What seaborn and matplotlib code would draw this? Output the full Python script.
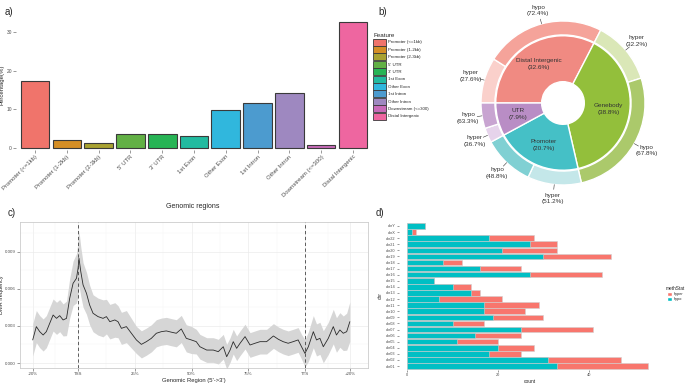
import numpy as np
import pandas as pd
import seaborn as sns
import matplotlib.pyplot as plt
from matplotlib.patches import Patch

# ---- a) annotation bar chart ----
features = ["Promoter (<=1kb)", "Promoter (1-2kb)", "Promoter (2-3kb)", "5' UTR", "3' UTR",
            "1st Exon", "Other Exon", "1st Intron", "Other Intron", "Downstream (<=300)",
            "Distal Intergenic"]
feature_pct = [17.2, 2.1, 1.4, 3.5, 3.6, 3.1, 9.8, 11.6, 14.2, 0.8, 32.6]
feature_colors = ["#F0746B", "#D58E25", "#A9A231", "#62B045", "#27B455", "#22BBA0",
                  "#30B7DD", "#4C9BCF", "#9E88C0", "#C86BB9", "#EE66A0"]

# ---- b) donut ----
groups = ["Distal Intergenic", "Genebody", "Promoter", "UTR"]
group_pct = [32.6, 38.8, 20.7, 7.9]
hyper_pct = [27.6, 32.2, 51.2, 36.7]
hypo_pct = [72.4, 67.8, 48.8, 63.3]
group_colors = ["#F08A82", "#93BF3B", "#45C0C6", "#B98DC5"]
hypo_colors = ["#F5A39A", "#ABC96B", "#80D0D3", "#C8A4D1"]
hyper_colors = ["#FAD0CB", "#DAE7B7", "#C4E7E9", "#E6D3EB"]

# ---- c) DMR profile along gene body ----
prof_x = [-20, -18.4, -16.9, -15.4, -14.0, -12.5, -11.0, -9.5, -8.1, -6.6, -5.1,
          -3.7, -2.2, -0.7, 0.0, 0.4, 1.2, 2.2, 3.7,
          5.1, 6.6, 8.8, 11.0, 12.5, 14.0, 16.2, 17.6, 19.1, 21.3, 23.5,
          25.7, 27.9, 30.1, 32.3, 34.5, 36.7, 38.9, 41.1, 43.3, 45.5, 47.7, 49.9, 52.1,
          53.7, 56.7, 59.6, 61.8, 64.0, 65.5, 67.0, 68.4, 69.9, 71.4, 73.6,
          75.8, 78.0, 80.2, 83.1, 86.1, 88.3, 90.4, 92.6, 94.8, 97.0, 98.5,
          100.0, 101.5, 103.7, 105.1, 106.6, 108.1, 110.3, 112.5, 113.9, 115.4, 116.9, 118.4, 119.8]
prof_y = [1.87, 2.95, 2.54, 2.27, 2.54, 3.22, 3.89, 3.62, 3.84, 3.49, 3.62,
          5.24, 6.46, 6.87, 7.68, 8.49, 7.40, 6.33, 5.65,
          4.70, 4.03, 3.76, 3.62, 3.76, 3.35, 3.49, 3.35, 2.81, 2.95, 2.41,
          1.87, 1.51, 1.73, 2.00, 2.41, 2.54, 2.60, 2.50, 2.41, 2.76, 2.00, 1.87, 1.73,
          1.32, 1.05, 1.05, 0.92, 1.32, 0.51, 1.05, 1.73, 1.19, 1.60, 2.14,
          1.46, 1.60, 1.73, 1.73, 2.19, 1.92, 1.73, 1.60, 1.73, 1.87, 1.32,
          0.78, 1.32, 2.54, 1.87, 2.00, 1.32, 2.00, 2.95, 2.27, 2.68, 2.41, 2.54, 3.35]
prof_ci = [1.3, 1.3, 1.3, 1.3, 1.3, 1.3, 1.3, 1.3, 1.3, 1.3, 1.4,
           1.6, 1.8, 2.0, 2.2, 2.2, 2.0, 1.8, 1.7,
           1.6, 1.5, 1.5, 1.5, 1.4, 1.4, 1.4, 1.3, 1.3, 1.3, 1.2,
           1.1, 1.1, 1.1, 1.1, 1.1, 1.1, 1.1, 1.1, 1.1, 1.1, 1.1, 1.1, 1.0,
           1.0, 1.0, 1.0, 1.0, 1.0, 1.0, 1.0, 1.0, 1.0, 1.0, 1.0,
           1.0, 1.0, 1.0, 1.0, 1.0, 1.0, 1.0, 1.0, 1.0, 1.0, 1.0,
           1.1, 1.2, 1.3, 1.3, 1.3, 1.3, 1.3, 1.4, 1.4, 1.4, 1.4, 1.5, 1.6]
prof_ticks = [-20, 0, 25, 50, 75, 100, 120]
prof_ticklabels = ["-20%", "TSS", "25%", "50%", "75%", "TTS", "+20%"]

# ---- d) DMRs per chromosome ----
chroms = ["chrY", "chrX", "chr22", "chr21", "chr20", "chr19", "chr18", "chr17", "chr16",
          "chr15", "chr14", "chr13", "chr12", "chr11", "chr10", "chr09", "chr08", "chr07",
          "chr06", "chr05", "chr04", "chr03", "chr02", "chr01"]
hypo_n = [4, 1, 18, 27, 21, 30, 8, 16, 27, 6, 10, 14, 7, 17, 17, 19, 10, 25, 15, 11, 20, 18, 31, 33]
hyper_n = [0, 1, 10, 6, 12, 15, 4, 9, 16, 0, 4, 2, 14, 12, 9, 11, 7, 16, 10, 9, 8, 7, 16, 20]

sns.set_theme(style="white")
plt.rcParams["font.family"] = ["Liberation Sans", "DejaVu Sans"]
W, H = 685, 383
fig = plt.figure(figsize=(6.85, 3.83), dpi=100)
tick_col = "#4D4D4D"


def box(l, t, r, b):
    return [l / W, 1 - b / H, (r - l) / W, (b - t) / H]


# a)
ax_a = fig.add_axes(box(16, 20, 372, 150))
df_a = pd.DataFrame({"feature": features, "pct": feature_pct})
sns.barplot(data=df_a, x="feature", y="pct", hue="feature",
            palette=dict(zip(features, feature_colors)), legend=False,
            width=0.9, saturation=1, edgecolor="#3a3a3a", linewidth=0.8, ax=ax_a)
ax_a.set_xlim(-0.6, 10.6)
ax_a.set_ylim(-0.52, 33.1)
ax_a.set_yticks([0, 10, 20, 30])
sns.despine(ax=ax_a, left=True, bottom=True)
ax_a.tick_params(length=2, width=0.4, color=tick_col, labelcolor=tick_col, labelsize=3.5, pad=1,
                 bottom=True, left=True)
ax_a.set_xticks(range(len(features)))
ax_a.set_xticklabels(features, rotation=45, ha="right", rotation_mode="anchor", fontsize=4.3,
                     color=tick_col)
ax_a.set_xlabel("")
ax_a.set_ylabel("Percentage(%)", fontsize=4.3, labelpad=1.5)
fig.text(193 / W, 1 - 207 / H, "Genomic regions", fontsize=5, ha="center", va="center")

handles = [Patch(facecolor=c, edgecolor="#3a3a3a", linewidth=0.6) for c in feature_colors]
leg = fig.legend(handles, features, loc="upper left", bbox_to_anchor=(370 / W, 1 - 30 / H),
                 frameon=False, fontsize=3.2, title="Feature", title_fontsize=4.5,
                 handlelength=2.8, handleheight=2.0, labelspacing=0.12, handletextpad=0.6,
                 borderpad=0.2)
leg._legend_box.align = "left"

# b)
ax_b = fig.add_axes(box(473, 13, 653, 193))
inner, _ = ax_b.pie(group_pct, radius=0.82, colors=group_colors, startangle=180,
                    counterclock=False, wedgeprops=dict(width=0.56, edgecolor="white", linewidth=1))
outer_vals, outer_cols, outer_txt = [], [], []
for p, hy, ho, c1, c2 in zip(group_pct, hyper_pct, hypo_pct, hyper_colors, hypo_colors):
    outer_vals += [p * hy / 100, p * ho / 100]
    outer_cols += [c1, c2]
    outer_txt += [f"hyper\n({hy}%)", f"hypo\n({ho}%)"]
outer, _ = ax_b.pie(outer_vals, radius=1.0, colors=outer_cols, startangle=180,
                    counterclock=False, wedgeprops=dict(width=0.17, edgecolor="white", linewidth=1))
ax_b.set_xlim(-1.0976, 1.0976)
ax_b.set_ylim(-1.0976, 1.0976)
ax_b.set_aspect("equal")
ax_b.axis("off")

for w, g, p in zip(inner, groups, group_pct):
    a = np.deg2rad((w.theta1 + w.theta2) / 2)
    ax_b.text(0.56 * np.cos(a), 0.56 * np.sin(a), f"{g}\n({p}%)", ha="center", va="center",
              fontsize=4.6, color="#333333", linespacing=1.5)
for w, t in zip(outer, outer_txt):
    a = np.deg2rad((w.theta1 + w.theta2) / 2)
    ax_b.plot([1.0 * np.cos(a), 1.06 * np.cos(a)], [1.0 * np.sin(a), 1.06 * np.sin(a)],
              color="#333333", lw=0.4)
    ax_b.text(1.17 * np.cos(a), 1.17 * np.sin(a), t, ha="center", va="center",
              fontsize=4.6, color="#333333", linespacing=1.4)

# c)
ax_c = fig.add_axes(box(20, 222, 368, 368))
df_c = pd.DataFrame({"pos": prof_x, "freq": [v / 1000 for v in prof_y],
                     "ci": [v / 1000 for v in prof_ci]})
ax_c.fill_between(df_c["pos"], df_c["freq"] - df_c["ci"], df_c["freq"] + df_c["ci"],
                  color="#D6D6D6", lw=0, zorder=2)
sns.lineplot(data=df_c, x="pos", y="freq", color="#2b2b2b", lw=0.6, ax=ax_c, zorder=3)
for xv in [0, 100]:
    ax_c.axvline(xv, color="#444444", lw=0.6, ls=(0, (4, 3)), zorder=4)
ax_c.set_xlim(-25.6, 127.8)
ax_c.set_ylim(-0.000405, 0.01143)
ax_c.set_xticks(prof_ticks)
ax_c.set_xticklabels(prof_ticklabels)
ax_c.set_yticks([0, 0.003, 0.006, 0.009])
ax_c.set_yticklabels(["0.000", "0.003", "0.006", "0.009"])
ax_c.set_xticks([-10, 12.5, 37.5, 62.5, 87.5, 110], minor=True)
ax_c.set_yticks([0.0015, 0.0045, 0.0075, 0.0105], minor=True)
ax_c.grid(True, which="major", color="#EBEBEB", lw=0.5)
ax_c.grid(True, which="minor", color="#F4F4F4", lw=0.3)
ax_c.set_axisbelow(True)
for s in ax_c.spines.values():
    s.set_color("#CCCCCC")
    s.set_linewidth(0.6)
ax_c.tick_params(which="major", length=2, width=0.4, color=tick_col, labelcolor=tick_col,
                 labelsize=3.2, pad=1, bottom=True, left=True)
ax_c.tick_params(which="minor", length=0)
ax_c.set_xlabel("Genomic Region (5'->3')", fontsize=4.2, labelpad=1)
ax_c.set_ylabel("DMR frequency", fontsize=4.0, labelpad=1)

# d)
ax_d = fig.add_axes(box(399, 222.3, 660, 369.7))
df_d = pd.DataFrame({"chr": chroms, "hypo": hypo_n,
                     "total": [a + b for a, b in zip(hypo_n, hyper_n)]})
sns.barplot(data=df_d, x="total", y="chr", orient="y", color="#F8766D", saturation=1,
            width=0.9, edgecolor="#D0D0D0", linewidth=0.4, ax=ax_d)
sns.barplot(data=df_d, x="hypo", y="chr", orient="y", color="#00BFC4", saturation=1,
            width=0.9, edgecolor="#D0D0D0", linewidth=0.4, ax=ax_d)
ax_d.set_xlim(-1.8, 55.7)
ax_d.set_ylim(23.6, -0.6)
ax_d.set_xticks([0, 20, 40])
sns.despine(ax=ax_d, left=True, bottom=True)
ax_d.tick_params(length=1.5, width=0.4, color=tick_col, labelcolor=tick_col, labelsize=2.8, pad=1,
                 bottom=True, left=True)
ax_d.set_xlabel("count", fontsize=3.5, labelpad=1)
ax_d.set_ylabel("chr", fontsize=3.5, labelpad=2)
fig.legend([Patch(facecolor="#F8766D"), Patch(facecolor="#00BFC4")], ["hyper", "hypo"],
           loc="upper left", bbox_to_anchor=(663 / W, 1 - 283 / H), frameon=False,
           fontsize=2.8, title="methStat", title_fontsize=3.4, handlelength=1.4, handleheight=1.4,
           labelspacing=0.2, handletextpad=0.4, borderpad=0.2)

# panel tags
for x, y, t in [(5, 12, "a)"), (378, 12, "b)"), (8, 213, "c)"), (376, 213, "d)")]:
    fig.text(x / W, 1 - y / H, t, fontsize=7, ha="left", va="center")

fig.savefig("out.png", dpi=100)
